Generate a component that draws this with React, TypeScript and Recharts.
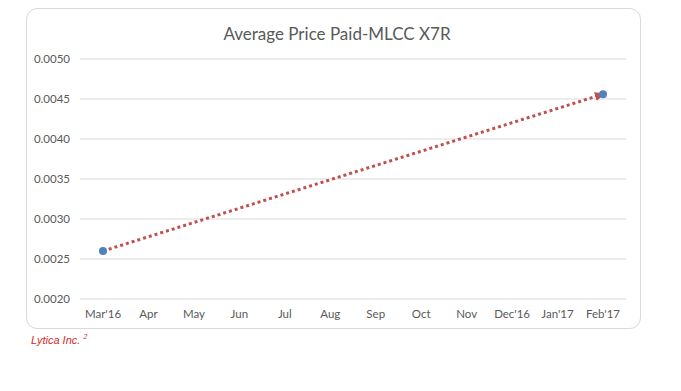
import { LineChart, Line, XAxis, YAxis, CartesianGrid } from 'recharts';

const months = ["Mar'16", 'Apr', 'May', 'Jun', 'Jul', 'Aug', 'Sep', 'Oct', 'Nov', "Dec'16", "Jan'17", "Feb'17"];
// only the first and last months carry a value, the trend line joins them
const avgPrice = [0.0026, null, null, null, null, null, null, null, null, null, null, 0.00456];
const yTicks = [0.002, 0.0025, 0.003, 0.0035, 0.004, 0.0045, 0.005];

const chartData = months.map((m, i) => ({ month: m, price: avgPrice[i] }));

const FONT = 'Lato, "Open Sans", sans-serif';

export default function App() {
  return (
    <div style={{ position: 'relative', width: '681px', height: '391px', margin: '-8px', background: '#fff', fontFamily: FONT }}>
      <div
        style={{
          position: 'absolute',
          left: '26px',
          top: '8px',
          width: '615px',
          height: '321px',
          border: '1px solid #d9d9d9',
          borderRadius: '11px',
          boxSizing: 'border-box',
        }}
      />
      <div style={{ position: 'absolute', left: '29px', top: '23px', width: '616px', textAlign: 'center', fontSize: '17px', color: '#595959' }}>
        Average Price Paid-MLCC X7R
      </div>
      <div style={{ position: 'absolute', left: 0, top: 0 }}>
        <LineChart width={681} height={391} data={chartData} margin={{ top: 59, right: 55, bottom: 62, left: 0 }}>
          <defs>
            <marker id="arrowEnd" markerUnits="userSpaceOnUse" markerWidth="10" markerHeight="9" viewBox="0 0 10 9" refX="8" refY="4.5" orient="auto">
              <path d="M0,0 L10,4.5 L0,9 z" fill="#c0504d" />
            </marker>
          </defs>
          <CartesianGrid vertical={false} stroke="#d9d9d9" strokeWidth={1} />
          <XAxis
            dataKey="month"
            axisLine={false}
            tickLine={false}
            interval={0}
            padding={{ left: 23, right: 23 }}
            tickMargin={5}
            tick={{ fill: '#595959', fontSize: 11.5, fontFamily: FONT }}
          />
          <YAxis
            domain={[0.002, 0.005]}
            ticks={yTicks}
            width={80}
            axisLine={false}
            tickLine={false}
            tickMargin={4}
            tickFormatter={(v: number) => v.toFixed(4)}
            tick={{ fill: '#595959', fontSize: 11.5, fontFamily: FONT }}
          />
          <Line
            dataKey="price"
            type="linear"
            connectNulls
            stroke="#c0504d"
            strokeWidth={3}
            strokeDasharray="3 3"
            markerEnd="url(#arrowEnd)"
            dot={{ r: 4, fill: '#4f81bd', stroke: '#4f81bd', strokeWidth: 0 }}
            isAnimationActive={false}
          />
        </LineChart>
      </div>
      <div style={{ position: 'absolute', left: '31px', top: '333px', fontFamily: '"Liberation Sans", Arial, sans-serif', fontStyle: 'italic', fontSize: '11px', color: '#d12a2a' }}>
        Lytica Inc. <sup style={{ fontSize: '7px' }}>2</sup>
      </div>
    </div>
  );
}
